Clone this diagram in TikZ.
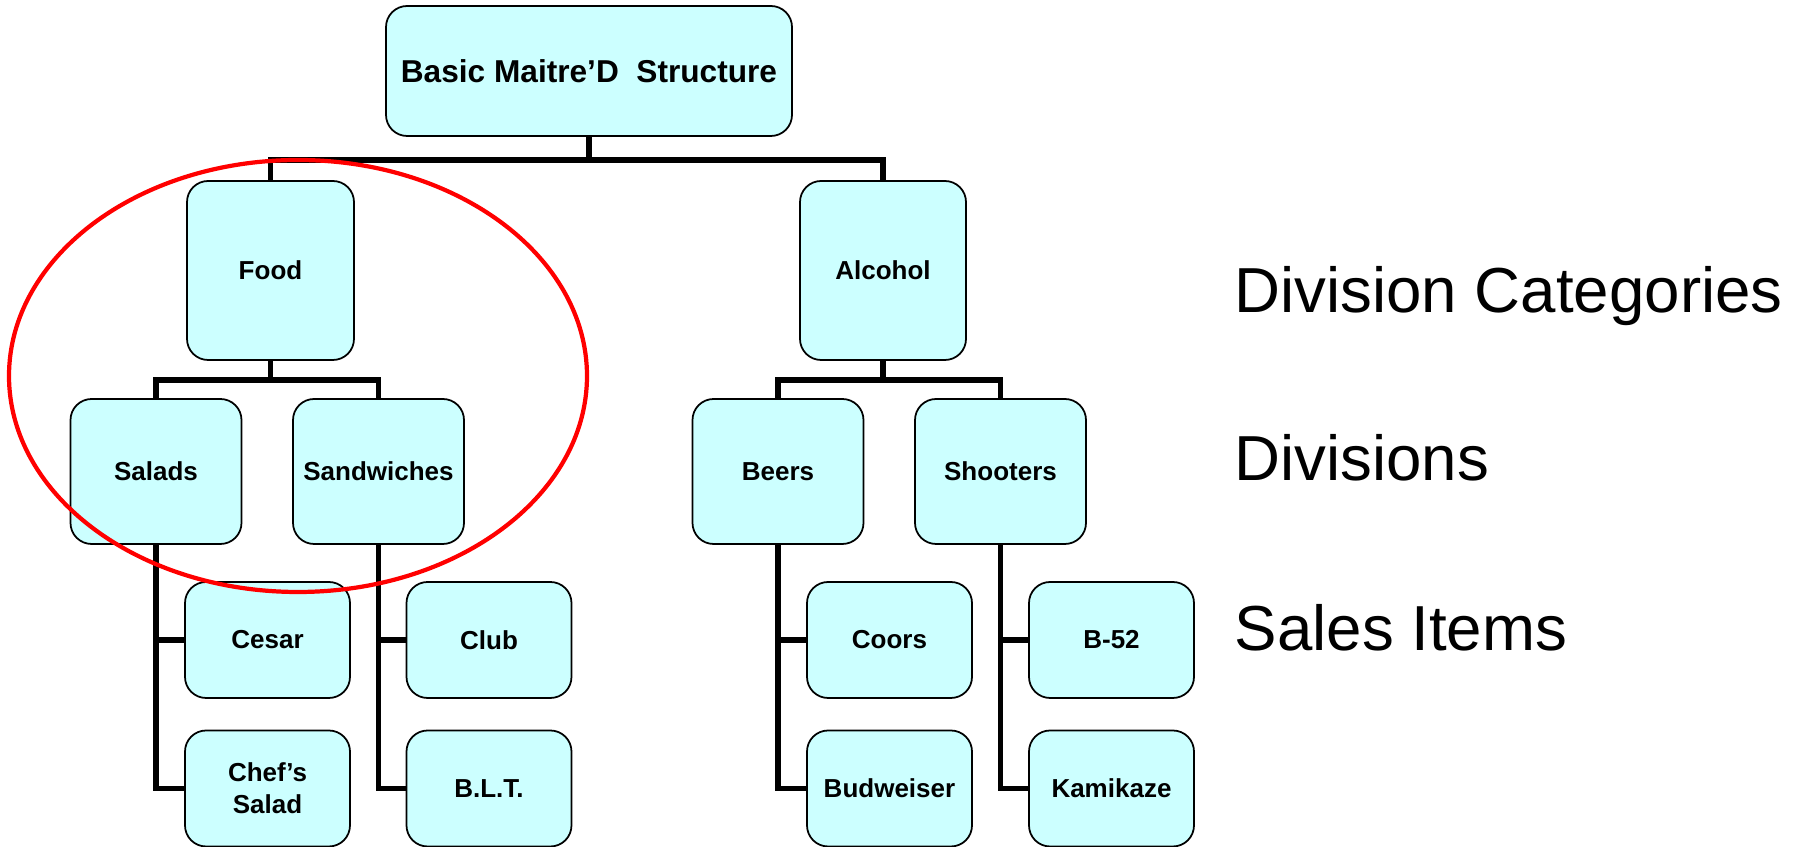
\documentclass[tikz,border=0pt]{standalone}
\usepackage{fontspec}
\setmainfont{Liberation Sans}
\usepackage{tikz}
\definecolor{boxcyan}{RGB}{204, 255, 255}
\definecolor{ringred}{RGB}{255, 0, 0}

\begin{document}
\begin{tikzpicture}[
  box/.style={draw=black, line width=0.5pt, fill=boxcyan, rounded corners=6pt,
    inner sep=0pt, align=center, font=\bfseries\fontsize{7.4}{9.2}\selectfont},
  item/.style={box, minimum width=1.65cm, minimum height=1.16cm},
  division/.style={box, minimum width=1.71cm, minimum height=1.45cm},
  link/.style={line width=1.7pt, black},
  side/.style={anchor=base west, inner sep=0pt, font=\fontsize{18.1}{22}\selectfont}
]
\useasboundingbox (0,0) rectangle (18,-8.47);

% Top of the tree
\node[box, minimum width=4.06cm, minimum height=1.30cm,
  font=\bfseries\fontsize{9}{11}\selectfont] (root) at (5.89,-0.71) {Basic Maitre’D~ Structure};

% Division categories
\node[box, minimum width=1.67cm, minimum height=1.79cm] (food) at (2.705,-2.705) {Food};
\node[box, minimum width=1.66cm, minimum height=1.79cm] (alcohol) at (8.83,-2.705) {Alcohol};

% Divisions
\node[division] (salads) at (1.56,-4.715) {Salads};
\node[division] (sandwiches) at (3.785,-4.715) {Sandwiches};
\node[division] (beers) at (7.78,-4.715) {Beers};
\node[division] (shooters) at (10.005,-4.715) {Shooters};

% Sales items
\node[item] (cesar) at (2.675,-6.40) {Cesar};
\node[item] (chef) at (2.675,-7.885) {Chef’s\\Salad};
\node[item] (club) at (4.89,-6.40) {Club};
\node[item] (blt) at (4.89,-7.885) {B.L.T.};
\node[item] (coors) at (8.895,-6.40) {Coors};
\node[item] (bud) at (8.895,-7.885) {Budweiser};
\node[item] (b52) at (11.115,-6.40) {B-52};
\node[item] (kami) at (11.115,-7.885) {Kamikaze};

% Connectors
\foreach \c in {food, alcohol} {
    \draw[link] (root.south) -- ++(0,-0.23) -| (\c.north);
}
\foreach \p/\a/\b in {food/salads/sandwiches, alcohol/beers/shooters} {
    \draw[link] (\p.south) -- ++(0,-0.19) -| (\a.north);
    \draw[link] (\p.south) -- ++(0,-0.19) -| (\b.north);
}
\foreach \d/\a/\b in {salads/cesar/chef, sandwiches/club/blt, beers/coors/bud, shooters/b52/kami} {
    \draw[link] (\d.south) |- (\a.west);
    \draw[link] (\d.south) |- (\b.west);
}

% Red ring round the food branch
\draw[ringred, line width=1.2pt] (2.98,-3.76) ellipse (2.89 and 2.16);

% Level labels
\node[side] (cats) at (12.34,-3.13) {Division Categories};
\node[side] (divs) at (12.34,-4.81) {Divisions};
\node[side] (items) at (12.34,-6.51) {Sales Items};
\end{tikzpicture}
\end{document}
